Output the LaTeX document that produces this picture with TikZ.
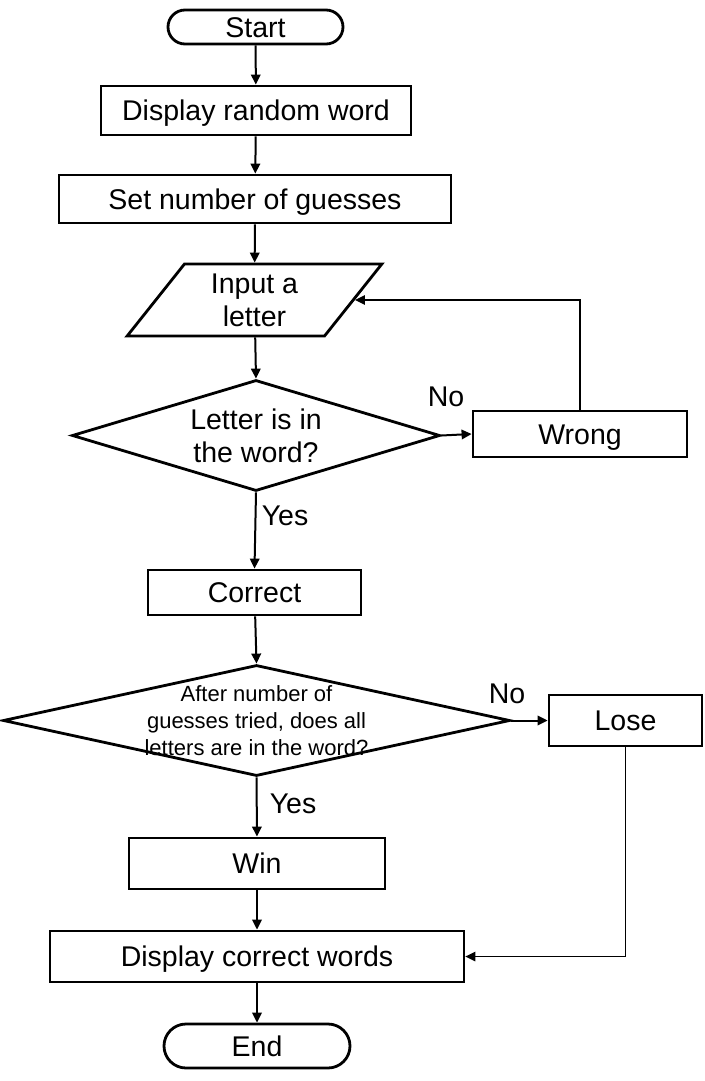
\documentclass[tikz,border=0pt]{standalone}
\usepackage{fontspec}
\setmainfont{Liberation Sans}
\usetikzlibrary{shapes.geometric, arrows.meta}

\begin{document}
\begin{tikzpicture}[x=1pt, y=-1pt,
  box/.style={rectangle, draw, line width=2.8pt, inner sep=0pt,
              text height=20.5pt, text depth=0pt,
              font=\fontsize{28.5}{33}\selectfont},
  term/.style={box, rounded corners=#1},
  io/.style={rectangle, draw, line width=2.8pt, inner sep=0pt, align=center,
             font=\fontsize{28.5}{33}\selectfont,
             trapezium, trapezium left angle=56, trapezium right angle=124,
             trapezium stretches=true},
  decision/.style={diamond, draw, line width=2.8pt, inner sep=0pt},
  question/.style={inner sep=0pt, align=center},
  lbl/.style={inner sep=0pt, text height=20.5pt, text depth=0pt,
              font=\fontsize{28.5}{33}\selectfont},
  arr/.style={line width=2pt, -{Triangle[length=10pt, width=9.5pt]}},
  back/.style={arr, line width=1.4pt}]

%─────────────
% Canvas
%─────────────
\useasboundingbox (0,0) rectangle (704,1081);

%─────────────
% Main column
%─────────────
\node[term=17pt, minimum width=175, minimum height=34] (start) at (255.5,27) {Start};
\node[box, minimum width=310, minimum height=49] (random) at (256,110.5) {Display random word};
\node[box, minimum width=392, minimum height=48] (guesses) at (255,199) {Set number of guesses};
\node[io, minimum width=255, minimum height=72] (input) at (254.5,300) {Input a\\letter};

% decision shapes drawn empty, question text laid on top
\node[decision, minimum width=368, minimum height=111] (check) at (256,435.5) {};
\node[question, font=\fontsize{28.5}{33}\selectfont] (checktext) at (256,436) {Letter is in\\the word?};
\node[box, minimum width=213, minimum height=45] (correct) at (254.5,592.5) {Correct};
\node[decision, minimum width=507, minimum height=111] (final) at (256.5,720.5) {};
\node[question, font=\fontsize{22}{27}\selectfont] (finaltext) at (256.5,721)
  {After number of\\guesses tried, does all\\letters are in the word?};
\node[box, minimum width=256, minimum height=51] (win) at (257,863.5) {Win};
\node[box, minimum width=414, minimum height=51] (show) at (257,956.5) {Display correct words};
\node[term=22pt, minimum width=186, minimum height=44] (end) at (257,1046) {End};

%─────────────
% Side branches
%─────────────
\node[box, minimum width=214, minimum height=46] (wrong) at (580,434) {Wrong};
\node[box, minimum width=153, minimum height=51] (lose) at (625.5,720.5) {Lose};

%─────────────
% Connectors
%─────────────
\draw[arr] (start) -- (random);
\draw[arr] (random) -- (guesses);
\draw[arr] (guesses) -- (input);
\draw[arr] (input) -- (check.north);
\draw[arr] (check.east) -- (wrong.west);
\draw[back] (wrong.north) |- (input.east);
\draw[arr] (check.south) -- (correct.north);
\draw[arr] (correct) -- (final.north);
\draw[arr] (final.east) -- (lose.west);
\draw[arr] (final.south) -- (win.north);
\draw[arr] (win) -- (show);
\draw[back] (lose.south) |- (show.east);
\draw[arr] (show) -- (end);

%─────────────
% Labels
%─────────────
\node[lbl] (no1) at (446,396) {No};
\node[lbl] (yes1) at (285,515) {Yes};
\node[lbl] (no2) at (507,693) {No};
\node[lbl] (yes2) at (293,803) {Yes};

\end{tikzpicture}
\end{document}
